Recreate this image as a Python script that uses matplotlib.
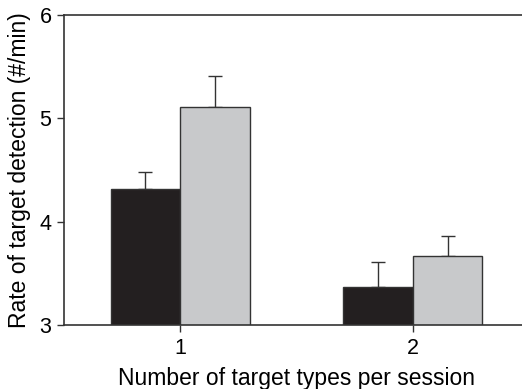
import matplotlib
matplotlib.use("Agg")
import matplotlib.pyplot as plt
import numpy as np

plt.rcParams['font.family'] = ['Liberation Sans', 'DejaVu Sans']

groups = [1, 2]
series_a = [4.32, 3.37]
series_b = [5.11, 3.67]
err_a = [0.16, 0.24]
err_b = [0.30, 0.19]

fig = plt.figure(figsize=(5.22, 3.89), dpi=100)
ax = fig.add_axes([64/522, 1 - 325/389, 465/522, 310/389])

x = np.array(groups, dtype=float)
w = 0.30
edge = '#333333'
ax.bar(x - w/2, series_a, w, bottom=0, color='#231f20', edgecolor=edge, linewidth=1.0, zorder=2)
ax.bar(x + w/2, series_b, w, bottom=0, color='#c8c9cb', edgecolor=edge, linewidth=1.0, zorder=2)
ax.errorbar(x - w/2, series_a, yerr=[np.zeros(2), err_a], fmt='none', ecolor=edge,
            elinewidth=1.0, capsize=5, capthick=1.0, zorder=1)
ax.errorbar(x + w/2, series_b, yerr=[np.zeros(2), err_b], fmt='none', ecolor=edge,
            elinewidth=1.0, capsize=5, capthick=1.0, zorder=1)

ax.set_xlim(0.5, 2.5)
ax.set_ylim(3, 6)
ax.set_yticks([3, 4, 5, 6])
ax.set_xticks(groups)
ax.set_xticklabels([str(g) for g in groups])
for s in ['left', 'top', 'bottom']:
    ax.spines[s].set_color(edge)
    ax.spines[s].set_linewidth(1.2)
ax.spines['right'].set_visible(False)
ax.tick_params(axis='both', direction='out', length=5, width=1.0, color=edge,
               labelsize=15.5, pad=4)
ax.set_xlabel('Number of target types per session', fontsize=16.5, labelpad=6)
ax.set_ylabel('Rate of target detection (#/min)', fontsize=16.5, labelpad=6)

fig.savefig('out.png', dpi=100)
